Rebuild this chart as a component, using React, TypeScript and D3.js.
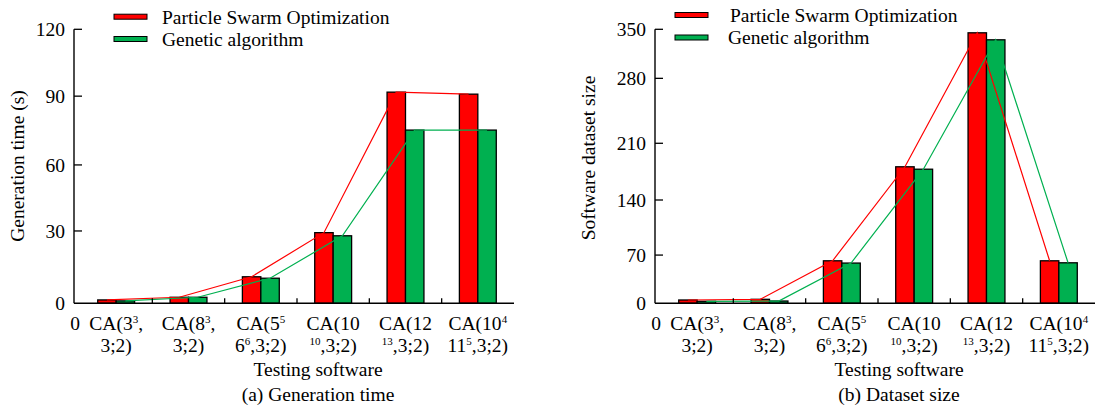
import React, { useEffect, useRef } from 'react';
import * as d3 from 'd3';

// categories (test cases); "^n" marks a superscript
const categories = ['c1', 'c2', 'c3', 'c4', 'c5', 'c6'];
const labelTop = ['CA(3^3,', 'CA(8^3,', 'CA(5^5', 'CA(10', 'CA(12', 'CA(10^4'];
const labelBottom = ['3;2)', '3;2)', '6^6,3;2)', '^10,3;2)', '^13,3;2)', '11^5,3;2)'];

const seriesKeys = ['pso', 'ga'];
const seriesNames = ['Particle Swarm Optimization', 'Genetic algorithm'];
const seriesColors = ['#ff0000', '#00b050'];

// (a) generation time, seconds
const psoTime = [1.4, 2.5, 11.0, 29.3, 91.8, 90.9];
const gaTime = [1.0, 2.5, 10.4, 28.0, 75.2, 75.2];
const timeTicks = [0, 30, 60, 90, 120];

// (b) dataset size
const psoSize = [4.8, 5.8, 61.7, 181, 345, 61.7];
const gaSize = [2.9, 3.3, 58.4, 178, 335, 58.8];
const sizeTicks = [0, 70, 140, 210, 280, 350];

const W = 1104;
const H = 407;
const FONT = '"Liberation Serif", "Times New Roman", serif';
const FS = 19.5;
const TOP = 29.3;
const BASE = 303.3;
const AXIS_LEN = 440;

interface PanelSpec {
  x0: number;
  ticks: number[];
  tickFrac: number[]; // the original axis spaces its ticks unevenly
  pso: number[];
  ga: number[];
  yTitle: string;
  yTitleX: number;
  yTitleY: number;
  caption: string;
  legendSwatchX: number;
  legendTextX: number[];
  legendY: number[];
}

function addRichText(
  sel: d3.Selection<SVGTextElement, unknown, null, undefined>,
  str: string
) {
  const parts = str.split(/\^(\d+)/);
  let raised = false;
  parts.forEach((p, i) => {
    if (!p) return;
    const sup = i % 2 === 1;
    const t = sel.append('tspan').text(p);
    if (sup && !raised) {
      t.attr('dy', -7).attr('font-size', 11);
      raised = true;
    } else if (sup) {
      t.attr('font-size', 11);
    } else if (raised) {
      t.attr('dy', 7);
      raised = false;
    }
  });
}

function drawPanel(svg: d3.Selection<SVGSVGElement, unknown, null, undefined>, spec: PanelSpec) {
  const g = svg.append('g');
  const { x0 } = spec;

  const y = d3.scaleLinear()
    .domain(spec.ticks)
    .range(spec.tickFrac.map(f => BASE - f * (BASE - TOP)));

  const x = d3.scaleBand<string>()
    .domain(categories)
    .range([x0 + 6, x0 + AXIS_LEN])
    .paddingInner(0.49)
    .paddingOuter(0.245);

  const x1 = d3.scaleBand<string>()
    .domain(seriesKeys)
    .range([0, x.bandwidth()]);

  const seriesData = [spec.pso, spec.ga];

  // bars
  seriesData.forEach((vals, si) => {
    g.selectAll(`.bar-${si}`)
      .data(vals)
      .enter()
      .append('rect')
      .attr('x', (d, i) => (x(categories[i]) || 0) + (x1(seriesKeys[si]) || 0))
      .attr('y', d => y(d))
      .attr('width', x1.bandwidth())
      .attr('height', d => BASE - y(d))
      .attr('fill', seriesColors[si])
      .attr('stroke', '#000')
      .attr('stroke-width', 1.3);
  });

  // trend lines through bar tops
  seriesData.forEach((vals, si) => {
    const line = d3.line<number>()
      .x((d, i) => (x(categories[i]) || 0) + (x1(seriesKeys[si]) || 0) + x1.bandwidth() / 2)
      .y(d => y(d));
    g.append('path')
      .attr('d', line(vals))
      .attr('fill', 'none')
      .attr('stroke', seriesColors[si])
      .attr('stroke-width', 1.2);
  });

  // axes
  g.append('line')
    .attr('x1', x0).attr('x2', x0)
    .attr('y1', TOP).attr('y2', BASE)
    .attr('stroke', '#000').attr('stroke-width', 1.4);
  g.append('line')
    .attr('x1', x0).attr('x2', x0 + AXIS_LEN)
    .attr('y1', BASE).attr('y2', BASE)
    .attr('stroke', '#000').attr('stroke-width', 1.4);

  spec.ticks.forEach(t => {
    if (t !== 0) {
      g.append('line')
        .attr('x1', x0).attr('x2', x0 + 8)
        .attr('y1', y(t)).attr('y2', y(t))
        .attr('stroke', '#000').attr('stroke-width', 1.3);
    }
    g.append('text')
      .attr('x', x0 - 9)
      .attr('y', y(t))
      .attr('dy', '0.35em')
      .attr('text-anchor', 'end')
      .text(String(t));
  });

  categories.slice(0, -1).forEach(c => {
    const bx = (x(c) || 0) + x.bandwidth() / 2 + x.step() / 2;
    g.append('line')
      .attr('x1', bx).attr('x2', bx)
      .attr('y1', BASE).attr('y2', BASE - 5)
      .attr('stroke', '#000').attr('stroke-width', 1.3);
  });

  // category labels
  g.append('text')
    .attr('x', x0 + 1)
    .attr('y', 329.5)
    .attr('text-anchor', 'middle')
    .text('0');

  categories.forEach((c, i) => {
    const cx = (x(c) || 0) + x.bandwidth() / 2;
    const t1 = g.append('text').attr('x', cx).attr('y', 329.5).attr('text-anchor', 'middle');
    addRichText(t1, labelTop[i]);
    const t2 = g.append('text').attr('x', cx).attr('y', 351.5).attr('text-anchor', 'middle');
    addRichText(t2, labelBottom[i]);
  });

  g.append('text')
    .attr('x', x0 + 244)
    .attr('y', 376)
    .attr('text-anchor', 'middle')
    .text('Testing software');

  g.append('text')
    .attr('x', x0 + 244)
    .attr('y', 401)
    .attr('text-anchor', 'middle')
    .text(spec.caption);

  g.append('text')
    .attr('transform', `translate(${spec.yTitleX}, ${spec.yTitleY}) rotate(-90)`)
    .attr('dy', '0.35em')
    .attr('text-anchor', 'middle')
    .text(spec.yTitle);

  // legend
  seriesNames.forEach((name, si) => {
    const ly = spec.legendY[si];
    g.append('rect')
      .attr('x', spec.legendSwatchX)
      .attr('y', ly - 2.5)
      .attr('width', 33)
      .attr('height', 5)
      .attr('fill', seriesColors[si])
      .attr('stroke', '#000')
      .attr('stroke-width', 1);
    g.append('text')
      .attr('x', spec.legendTextX[si])
      .attr('y', ly)
      .attr('dy', '0.35em')
      .text(name);
  });
}

export default function App() {
  const svgRef = useRef<SVGSVGElement>(null);

  useEffect(() => {
    if (!svgRef.current) return;
    const svg = d3.select(svgRef.current);
    svg.selectAll('*').remove();

    svg.append('rect').attr('width', W).attr('height', H).attr('fill', '#fff');

    drawPanel(svg, {
      x0: 74,
      ticks: timeTicks,
      tickFrac: [0, 0.264, 0.505, 0.756, 1],
      pso: psoTime,
      ga: gaTime,
      yTitle: 'Generation time (s)',
      yTitleX: 17.5,
      yTitleY: 166,
      caption: '(a) Generation time',
      legendSwatchX: 114,
      legendTextX: [162, 162],
      legendY: [16.7, 39],
    });

    drawPanel(svg, {
      x0: 655,
      ticks: sizeTicks,
      tickFrac: [0, 0.176, 0.377, 0.584, 0.821, 1],
      pso: psoSize,
      ga: gaSize,
      yTitle: 'Software dataset size',
      yTitleX: 588.5,
      yTitleY: 158,
      caption: '(b) Dataset size',
      legendSwatchX: 675,
      legendTextX: [730, 728],
      legendY: [15, 37.5],
    });
  }, []);

  return (
    <div style={{ position: 'absolute', left: 0, top: 0 }}>
      <svg
        ref={svgRef}
        width={W}
        height={H}
        viewBox={`0 0 ${W} ${H}`}
        style={{ display: 'block', fontFamily: FONT, fontSize: FS, fill: '#000' }}
      />
    </div>
  );
}
